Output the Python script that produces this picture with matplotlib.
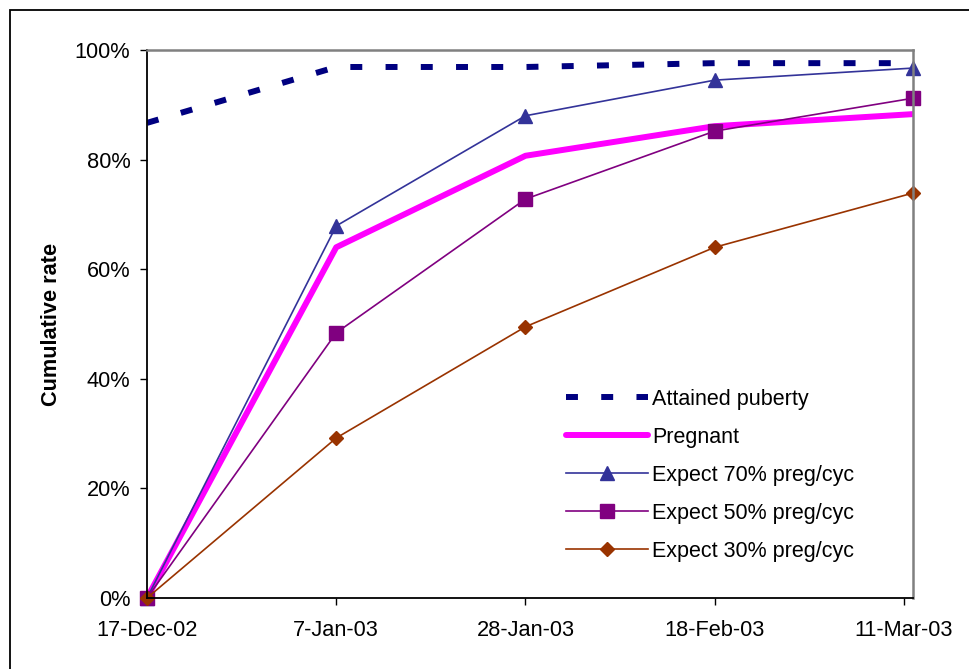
import numpy as np
import matplotlib.pyplot as plt
import matplotlib.dates as mdates
from matplotlib.patches import Rectangle
from datetime import date

plt.rcParams['font.family'] = ['Liberation Sans', 'DejaVu Sans']

# survey dates and cumulative rates (%)
dates = [date(2002, 12, 17), date(2003, 1, 7), date(2003, 1, 28),
         date(2003, 2, 18), date(2003, 3, 12)]
attained_puberty = [86.7, 96.9, 96.9, 97.6, 97.6]
pregnant = [0, 64.0, 80.7, 86.1, 88.3]
expect_70 = [0, 67.9, 88.0, 94.5, 96.7]
expect_50 = [0, 48.4, 72.8, 85.2, 91.2]
expect_30 = [0, 29.2, 49.5, 64.0, 73.9]

tick_dates = [date(2002, 12, 17), date(2003, 1, 7), date(2003, 1, 28),
              date(2003, 2, 18), date(2003, 3, 11)]
y_ticks = [0, 20, 40, 60, 80, 100]

W, H = 969, 669
fig = plt.figure(figsize=(W / 100, H / 100), dpi=100)
ax = fig.add_axes([147 / W, 1 - 598 / H, (913 - 147) / W, (598 - 50) / H])

ax.plot(dates, attained_puberty, color='#000080', lw=4.3,
        linestyle=(0, (2, 3.9)), dash_capstyle='butt', label='Attained puberty')
ax.plot(dates, pregnant, color='#ff00ff', lw=4.3, solid_capstyle='round',
        label='Pregnant')
ax.plot(dates, expect_70, color='#333399', lw=1.2, marker='^', ms=10.5,
        clip_on=False, label='Expect 70% preg/cyc')
ax.plot(dates, expect_50, color='#800080', lw=1.2, marker='s', ms=9.5,
        clip_on=False, label='Expect 50% preg/cyc')
ax.plot(dates, expect_30, color='#993300', lw=1.2, marker='D', ms=7.5,
        clip_on=False, label='Expect 30% preg/cyc')

ax.set_xlim(mdates.date2num(date(2002, 12, 17)), mdates.date2num(date(2003, 3, 12)))
ax.set_ylim(0, 100)
ax.set_xticks(mdates.date2num(tick_dates))
ax.set_xticklabels([d.strftime('%-d-%b-%y') for d in tick_dates])
ax.set_yticks(y_ticks)
ax.set_yticklabels([f'{v}%' for v in y_ticks])
ax.tick_params(axis='both', labelsize=15.7, direction='out', length=5,
               width=1, color='black')
ax.tick_params(axis='x', pad=11)
ax.tick_params(axis='y', pad=7)

for side in ('left', 'bottom'):
    ax.spines[side].set_color('black')
    ax.spines[side].set_linewidth(1.3)
for side in ('top', 'right'):
    ax.spines[side].set_color('#808080')
    ax.spines[side].set_linewidth(1.8)

ax.set_ylabel('Cumulative rate', fontsize=15.7, fontweight='bold', labelpad=9)

leg = ax.legend(loc='upper left', bbox_to_anchor=(566 / W, 1 - 389 / H),
                bbox_transform=fig.transFigure, frameon=False, fontsize=15.5,
                handlelength=3.8, handletextpad=0.2, labelspacing=0.79,
                borderpad=0, borderaxespad=0)

# outer chart frame
fig.patches.append(Rectangle((10 / W, -0.05), 1.1, 1 - 10 / H + 0.05,
                             transform=fig.transFigure, fill=False,
                             edgecolor='black', lw=1.3, zorder=10))

fig.savefig('out.png', dpi=100)
